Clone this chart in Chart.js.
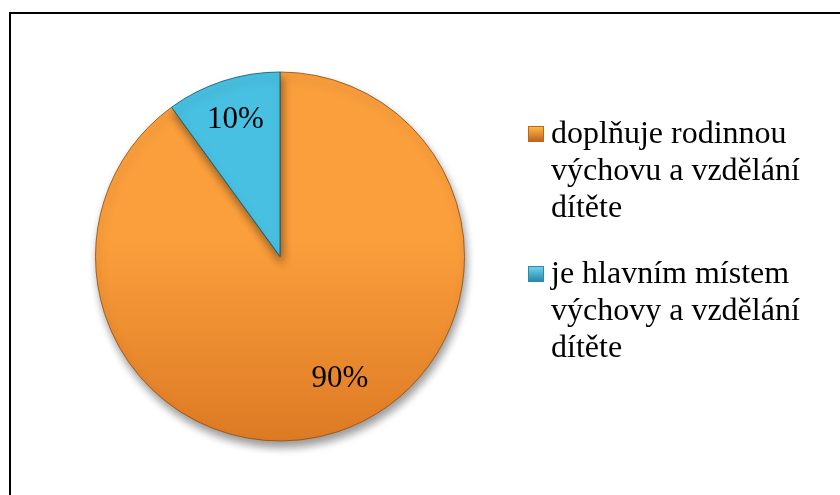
<!DOCTYPE html>
<html>
<head>
<meta charset="utf-8">
<script src="https://cdn.jsdelivr.net/npm/chart.js@4/dist/chart.umd.min.js"></script>
<style>
  html, body { margin:0; padding:0; background:#fff; overflow:hidden; }
  #wrap { position:relative; width:840px; height:495px; }
  #frame { position:absolute; left:9px; top:12px; width:900px; height:600px; border:2px solid #000; box-sizing:border-box; }
  canvas { position:absolute; left:0; top:0; }
  #legend { position:absolute; left:528px; top:114px; width:300px; font-family:"Liberation Serif","Times New Roman",serif; font-size:32px; line-height:37px; color:#000; }
  .item { position:relative; padding-left:23px; margin-bottom:29px; }
  .item .text { display:block; width:270px; }
  .mk { position:absolute; left:0; top:12px; width:16px; height:16px; box-sizing:border-box; }
</style>
</head>
<body>
<div id="wrap">
  <div id="frame"></div>
  <canvas id="c" width="840" height="495"></canvas>
  <div id="legend"></div>
</div>
<script>
const categories = ["doplňuje rodinnou výchovu a vzdělání dítěte", "je hlavním místem výchovy a vzdělání dítěte"];
const values = [90, 10];
const valueLabels = ["90%", "10%"];

const topColors = ["#FB9F3C", "#48C0E2"];
const bottomColors = ["#DD7A24", "#2FA2C4"];
const markerTop = ["#F9B846", "#6ED0EA"];
const markerBottom = ["#C0641C", "#2A8AA8"];

function grad(context, i) {
  const chart = context.chart;
  const a = chart.chartArea;
  if (!a) return topColors[i];
  const g = chart.ctx.createLinearGradient(0, a.top, 0, a.bottom);
  g.addColorStop(0, topColors[i]);
  g.addColorStop(0.45, topColors[i]);
  g.addColorStop(1, bottomColors[i]);
  return g;
}

const shadowPlugin = {
  id: 'shadow',
  beforeDatasetsDraw(chart) {
    const ctx = chart.ctx;
    ctx.save();
    ctx.shadowColor = 'rgba(0,0,0,0.4)';
    ctx.shadowBlur = 9;
    ctx.shadowOffsetX = 2;
    ctx.shadowOffsetY = 6;
  },
  afterDatasetsDraw(chart) {
    chart.ctx.restore();
  }
};

const labelPlugin = {
  id: 'sliceLabels',
  afterDatasetsDraw(chart, args, opts) {
    const ctx = chart.ctx;
    const meta = chart.getDatasetMeta(0);
    ctx.save();
    ctx.font = opts.font;
    ctx.fillStyle = '#000';
    ctx.textAlign = 'center';
    ctx.textBaseline = 'middle';
    meta.data.forEach((arc, i) => {
      const p = arc.getProps(['x','y','startAngle','endAngle','outerRadius'], true);
      const mid = (p.startAngle + p.endAngle) / 2 + (opts.angleShift[i] || 0);
      const r = p.outerRadius * opts.radiusFraction[i];
      ctx.fillText(valueLabels[i], p.x + Math.cos(mid) * r, p.y + Math.sin(mid) * r);
    });
    ctx.restore();
  }
};

new Chart(document.getElementById('c'), {
  type: 'pie',
  data: {
    labels: categories,
    datasets: [{
      data: values,
      backgroundColor: (ctx) => grad(ctx, ctx.dataIndex),
      borderColor: ['rgba(150,80,20,0.85)', 'rgba(20,90,120,0.85)'],
      borderWidth: 1
    }]
  },
  options: {
    responsive: false,
    animation: false,
    layout: { padding: { left: 95, right: 375, top: 71, bottom: 53 } },
    plugins: {
      legend: { display: false },
      tooltip: { enabled: false },
      sliceLabels: {
        font: '31px "Liberation Serif", "Times New Roman", serif',
        radiusFraction: [0.74, 0.78],
        angleShift: [-0.14, 0]
      }
    }
  },
  plugins: [shadowPlugin, labelPlugin]
});

const legend = document.getElementById('legend');
categories.forEach((c, i) => {
  const item = document.createElement('div');
  item.className = 'item';
  const mk = document.createElement('span');
  mk.className = 'mk';
  mk.style.background = `linear-gradient(to bottom, ${markerTop[i]}, ${markerBottom[i]})`;
  mk.style.border = '1px solid ' + markerBottom[i];
  const t = document.createElement('span');
  t.className = 'text';
  t.textContent = c;
  item.appendChild(mk);
  item.appendChild(t);
  legend.appendChild(item);
});
</script>
</body>
</html>
